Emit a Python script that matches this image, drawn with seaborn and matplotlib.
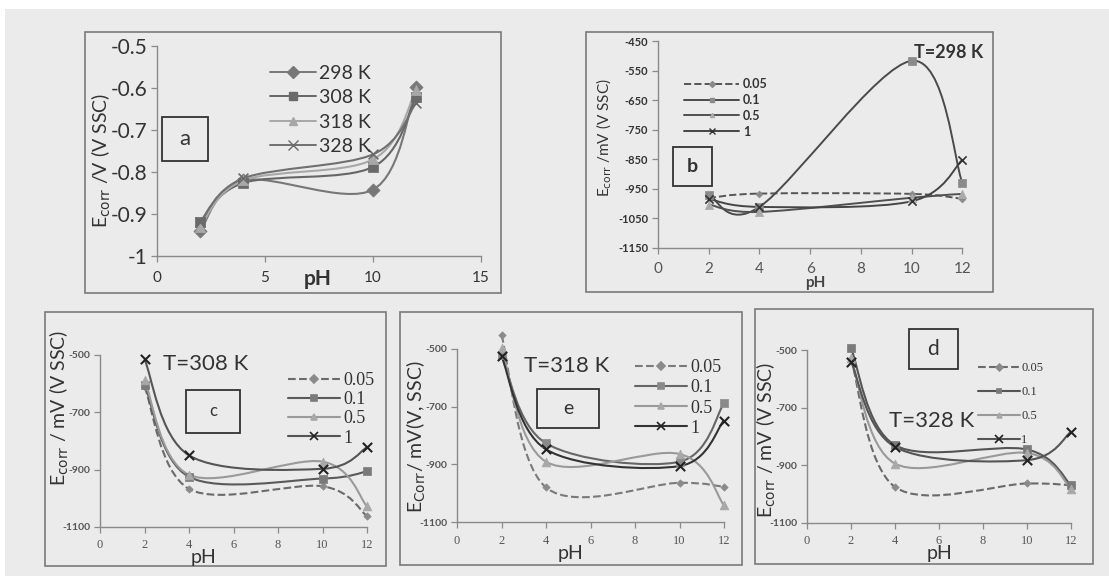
import numpy as np
import matplotlib
matplotlib.use("Agg")
import matplotlib.pyplot as plt
import seaborn as sns
from matplotlib.path import Path
from matplotlib.patches import PathPatch, Rectangle
from matplotlib.lines import Line2D

# ---------------- data ----------------
ph = [2, 4, 10, 12]

# panel a: E_corr (V) vs pH for temperatures
a_labels = ["298 K", "308 K", "318 K", "328 K"]
a_298 = [-0.940, -0.820, -0.842, -0.598]
a_308 = [-0.920, -0.826, -0.788, -0.622]
a_318 = [-0.930, -0.820, -0.770, -0.605]
a_328 = [-0.918, -0.815, -0.758, -0.635]

conc_labels = ["0.05", "0.1", "0.5", "1"]
# panel b: T=298 K (mV)
b_005 = [-981, -966, -967, -984]
b_01 = [-970, -1011, -517, -930]
b_05 = [-1003, -1028, -980, -967]
b_1 = [-984, -1011, -992, -852]
# panel c: T=308 K
c_005 = [-610, -967, -958, -1062]
c_01 = [-604, -925, -931, -906]
c_05 = [-587, -918, -872, -1028]
c_1 = [-515, -850, -897, -822]
# panel e: T=318 K
e_005 = [-452, -980, -964, -978]
e_01 = [-520, -827, -891, -688]
e_05 = [-497, -891, -864, -1042]
e_1 = [-526, -848, -906, -748]
# panel d: T=328 K
d_005 = [-530, -975, -963, -969]
d_01 = [-494, -830, -845, -969]
d_05 = [-529, -894, -857, -981]
d_1 = [-541, -836, -882, -784]

a_xticks = [0, 5, 10, 15]
a_yticks = [-1.0, -0.9, -0.8, -0.7, -0.6, -0.5]
a_yticklabels = ["-1", "-0.9", "-0.8", "-0.7", "-0.6", "-0.5"]
b_xticks = [0, 2, 4, 6, 8, 10, 12]
b_yticks = [-1150, -1050, -950, -850, -750, -650, -550, -450]
cde_yticks = [-1100, -900, -700, -500]

# ---------------- style ----------------
sns.set_theme(style="white")
plt.rcParams["font.family"] = ["Lato", "DejaVu Sans"]
plt.rcParams["axes.facecolor"] = "none"

W, H = 1109, 576
BG = "#ebebeb"
fig = plt.figure(figsize=(W / 100, H / 100), dpi=100, facecolor=BG)

def fx(x):
    return x / W

def fy(y):
    return 1 - y / H

# white scan margins
fig.patches.append(Rectangle((0, fy(9)), 1, 9 / H, transform=fig.transFigure,
                             facecolor="white", edgecolor="none", zorder=-5))
fig.patches.append(Rectangle((0, 0), 5 / W, 1, transform=fig.transFigure,
                             facecolor="white", edgecolor="none", zorder=-5))

def frame(l, t, r, b, lw=1.2, color="#7a7a7a"):
    fig.patches.append(Rectangle((fx(l), fy(b)), (r - l) / W, (b - t) / H,
                                 transform=fig.transFigure, facecolor="none",
                                 edgecolor=color, lw=lw, zorder=1))

def add_ax(l, t, r, b):
    ax = fig.add_axes([fx(l), fy(b), (r - l) / W, (b - t) / H])
    ax.set_facecolor("none")
    for s in ["top", "right"]:
        ax.spines[s].set_visible(False)
    for s in ["left", "bottom"]:
        ax.spines[s].set_color("#8a8a8a")
        ax.spines[s].set_linewidth(1.0)
    ax.tick_params(axis="both", which="both", direction="out", length=4,
                   width=0.9, color="#8a8a8a", labelcolor="#333333", pad=3,
                   left=True, bottom=True)
    return ax

def smooth(ax, x, y, color, lw=1.4, ls="-"):
    pts = np.column_stack([x, y]).astype(float)
    n = len(pts)
    verts = [pts[0]]
    codes = [Path.MOVETO]
    for i in range(n - 1):
        p0 = pts[i - 1] if i > 0 else pts[i]
        p1 = pts[i]
        p2 = pts[i + 1]
        p3 = pts[i + 2] if i + 2 < n else pts[i + 1]
        c1 = p1 + (p2 - p0) / 6.0
        c2 = p2 - (p3 - p1) / 6.0
        verts += [c1, c2, p2]
        codes += [Path.CURVE4] * 3
    ax.add_patch(PathPatch(Path(verts, codes), facecolor="none", edgecolor=color,
                           lw=lw, ls=ls, clip_on=False, zorder=2))

def markers(ax, x, y, marker, color, s, lw=1.2):
    if marker in ("x", "+"):
        sns.scatterplot(x=x, y=y, marker=marker, color=color, s=s, linewidth=lw,
                        ax=ax, legend=False, clip_on=False, zorder=3)
    else:
        sns.scatterplot(x=x, y=y, marker=marker, color=color, s=s, edgecolor=color,
                        linewidth=0.5, ax=ax, legend=False, clip_on=False, zorder=3)

def series(ax, x, y, lc, mk, mc, s, ls="-", lw=1.4, mlw=1.2):
    smooth(ax, x, y, lc, lw=lw, ls=ls)
    markers(ax, x, y, mk, mc, s, lw=mlw)

def handle(lc, mk, mc, ms, ls="-", lw=1.4, mew=1.0):
    return Line2D([], [], color=lc, ls=ls, lw=lw, marker=mk, mfc=mc, mec=mc,
                  ms=ms, mew=mew)

def label_box(l, t, r, b, txt, size, weight="normal", lw=1.3):
    frame(l, t, r, b, lw=lw, color="#333333")
    fig.text(fx((l + r) / 2), fy((t + b) / 2), txt, ha="center", va="center",
             fontsize=size, fontweight=weight, color="#333333")

# ================= panel a =================
frame(85, 32, 501, 293)
ax = add_ax(157, 46, 481, 256)
cols_a = [("#777777", "D", "#777777", 45), ("#666666", "s", "#6a6a6a", 60),
          ("#a8a8a8", "^", "#a8a8a8", 55), ("#707070", "x", "#6a6a6a", 50)]
for yv, (lc, mk, mc, s) in zip([a_298, a_308, a_318, a_328], cols_a):
    series(ax, ph, yv, lc, mk, mc, s, lw=1.5)
ax.set_xlim(0, 15)
ax.set_ylim(-1.0, -0.5)
ax.set_xticks(a_xticks)
ax.set_xticklabels([str(t) for t in a_xticks], fontsize=11)
ax.set_yticks(a_yticks)
ax.set_yticklabels(a_yticklabels, fontsize=15)
ax.tick_params(axis="x", pad=7)
ax.set_xlabel("")
ax.set_ylabel("")
fig.text(fx(318), fy(279), "pH", ha="center", va="center", fontsize=15,
         fontweight="bold", color="#333333")
fig.text(fx(101), fy(160), r"E$_{\rm corr}$ /V (V SSC)", ha="center", va="center",
         rotation=90, fontsize=14, color="#333333")
label_box(162, 117, 208, 161, "a", 16)
hs = [handle(lc, mk, mc, 6 if mk != "x" else 7) for (lc, mk, mc, s) in cols_a]
ax.legend(hs, a_labels, loc="upper left", bbox_to_anchor=(fx(260), fy(55)),
          bbox_transform=fig.transFigure, frameon=False, fontsize=14,
          handlelength=2.4, handletextpad=0.15, labelspacing=0.38,
          borderpad=0, labelcolor="#333333")

# ================= panel b =================
frame(586, 32, 993, 292)
ax = add_ax(658, 41, 970, 248)
cols_b = [("#555555", "D", "#8a8a8a", 12, "--"), ("#4a4a4a", "s", "#8a8a8a", 30, "-"),
          ("#505050", "^", "#aaaaaa", 35, "-"), ("#454545", "x", "#333333", 35, "-")]
for yv, (lc, mk, mc, s, ls) in zip([b_005, b_01, b_05, b_1], cols_b):
    series(ax, ph, yv, lc, mk, mc, s, ls=ls, lw=1.4)
ax.set_xlim(0, 12.3)
ax.set_ylim(-1150, -450)
ax.set_xticks(b_xticks)
ax.set_xticklabels([str(t) for t in b_xticks], fontsize=11, color="#555555")
ax.set_yticks(b_yticks)
ax.set_yticklabels([str(t) for t in b_yticks], fontsize=8, fontweight="bold")
ax.tick_params(axis="x", pad=6)
ax.spines["bottom"].set_bounds(0, 12)
ax.set_xlabel("")
ax.set_ylabel("")
fig.text(fx(815), fy(283), "pH", ha="center", va="center", fontsize=11,
         fontweight="bold", color="#444444")
fig.text(fx(604), fy(138), r"E$_{\rm corr}$ /mV (V SSC)", ha="center", va="center",
         rotation=90, fontsize=11, color="#333333")
fig.text(fx(949), fy(52), "T=298 K", ha="center", va="center", fontsize=13,
         fontweight="bold", color="#333333")
label_box(673, 147, 712, 186, "b", 14, weight="bold")
hs = [handle(lc, mk, mc, 3 if mk != "x" else 5, ls=ls, lw=1.4)
      for (lc, mk, mc, s, ls) in cols_b]
ax.legend(hs, conc_labels, loc="upper left", bbox_to_anchor=(fx(678), fy(72)),
          bbox_transform=fig.transFigure, frameon=False,
          prop={"size": 9, "weight": "bold"}, handlelength=4.4,
          handletextpad=0.3, labelspacing=0.3, borderpad=0, labelcolor="#333333")

# ================= panels c, e, d =================
serif = ["Liberation Serif", "DejaVu Serif"]

def cde_panel(box, axbox, data, cols, title, title_xy, lbox, ltxt, lsize,
              ylab, ylab_xy, pH_xy, leg_xy, leg_size, leg_spacing, hlen, lms):
    frame(*box)
    ax = add_ax(*axbox)
    for yv, (lc, mk, mc, s, ls) in zip(data, cols):
        series(ax, ph, yv, lc, mk, mc, s, ls=ls, lw=1.5, mlw=1.5)
    ax.set_xlim(0, 12)
    ax.set_ylim(-1100, -500)
    ax.set_xticks(b_xticks)
    ax.set_xticklabels([str(t) for t in b_xticks], fontsize=9, family=serif,
                       color="#555555")
    ax.set_yticks(cde_yticks)
    ax.set_yticklabels([str(t) for t in cde_yticks], fontsize=7.5,
                       fontweight="bold", color="#555555")
    ax.tick_params(axis="x", pad=5)
    ax.set_xlabel("")
    ax.set_ylabel("")
    fig.text(fx(title_xy[0]), fy(title_xy[1]), title, ha="center", va="center",
             fontsize=16, color="#333333")
    label_box(*lbox, ltxt, lsize)
    fig.text(fx(ylab_xy[0]), fy(ylab_xy[1]), ylab, ha="center", va="center",
             rotation=90, fontsize=14, color="#333333")
    fig.text(fx(pH_xy[0]), fy(pH_xy[1]), "pH", ha="center", va="center",
             fontsize=14, color="#333333")
    hs = [handle(lc, mk, mc, lms if mk != "x" else lms + 2, ls=ls, lw=1.5, mew=1.2)
          for (lc, mk, mc, s, ls) in cols]
    ax.legend(hs, conc_labels, loc="upper left",
              bbox_to_anchor=(fx(leg_xy[0]), fy(leg_xy[1])),
              bbox_transform=fig.transFigure, frameon=False,
              prop={"size": leg_size, "family": serif}, handlelength=hlen,
              handletextpad=0.15, labelspacing=leg_spacing, borderpad=0,
              labelcolor="#333333")
    return ax

cols_c = [("#6a6a6a", "D", "#8a8a8a", 14, "--"), ("#5a5a5a", "s", "#7a7a7a", 30, "-"),
          ("#9a9a9a", "^", "#a8a8a8", 40, "-"), ("#555555", "x", "#222222", 45, "-")]
cde_panel((45, 312, 386, 566), (100, 355, 367, 527), [c_005, c_01, c_05, c_1], cols_c,
          "T=308 K", (206, 364), (186, 390, 240, 433), "c", 12,
          r"E$_{\rm corr}$ / mV (V SSC)", (59, 408), (203, 558), (279, 363), 13, 0.12, 2.9, 4)

cols_e = [("#7a7a7a", "D", "#8a8a8a", 14, "--"), ("#666666", "s", "#8a8a8a", 30, "-"),
          ("#9a9a9a", "^", "#a8a8a8", 40, "-"), ("#333333", "x", "#222222", 45, "-")]
cde_panel((400, 312, 742, 565), (457, 349, 724, 522), [e_005, e_01, e_05, e_1], cols_e,
          "T=318 K", (567, 366), (537, 389, 599, 428), "e", 14,
          r"E$_{\rm Corr}$/ mV(V, SSC)", (416, 437), (570, 553), (626, 350), 13, 0.18, 2.9, 4)

cols_d = [("#6a6a6a", "D", "#8a8a8a", 14, "--"), ("#555555", "s", "#7a7a7a", 30, "-"),
          ("#999999", "^", "#a8a8a8", 40, "-"), ("#555555", "x", "#222222", 45, "-")]
cde_panel((755, 309, 1093, 564), (807, 350, 1071, 523), [d_005, d_01, d_05, d_1], cols_d,
          "T=328 K", (932, 421), (909, 329, 958, 369), "d", 15,
          r"E$_{\rm corr}$ / mV (V SSC)", (766, 440), (939, 554), (972, 356), 9, 0.95, 3.3, 3.5)

fig.savefig("out.png", dpi=100, facecolor=BG)
